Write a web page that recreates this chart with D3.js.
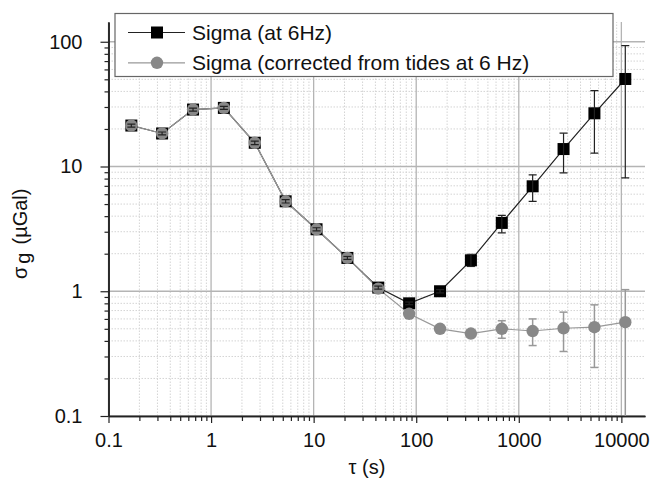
<!DOCTYPE html>
<html>
<head>
<meta charset="utf-8">
<script src="https://cdn.jsdelivr.net/npm/d3@7"></script>
<style>
  body { margin: 0; background: #fff; }
  svg { font-family: "Liberation Sans", Arial, sans-serif; }
</style>
</head>
<body>
<div id="chart"></div>
<script>
// averaging time (s)
const tau = [0.167, 0.333, 0.667, 1.333, 2.667, 5.333, 10.67, 21.33, 42.67, 85.33, 170.7, 341.3, 682.7, 1365, 2731, 5461, 10923]

// Sigma (at 6Hz)
const sigma     = [21.3, 18.4, 28.6, 29.5, 15.5, 5.26, 3.14, 1.85, 1.07, 0.80, 1.00, 1.77, 3.53, 6.94, 13.8, 26.7, 50.3]
const sigmaLow  = [20.7, 17.9, 27.8, 28.7, 15.0, 5.10, 3.05, 1.80, 1.04, 0.78, 0.97, 1.58, 2.94, 5.26, 8.9, 12.8, 8.1]
const sigmaHigh = [21.9, 18.9, 29.4, 30.3, 16.0, 5.42, 3.23, 1.90, 1.10, 0.82, 1.03, 1.98, 4.06, 8.57, 18.5, 40.6, 93]

// Sigma (corrected from tides at 6 Hz)
const corr     = [21.3, 18.4, 28.6, 29.5, 15.5, 5.26, 3.14, 1.85, 1.05, 0.66, 0.50, 0.458, 0.50, 0.48, 0.505, 0.515, 0.565]
const corrLow  = [21.0, 18.1, 28.2, 29.1, 15.3, 5.20, 3.10, 1.83, 1.03, 0.64, 0.49, 0.445, 0.42, 0.367, 0.329, 0.245, 0.05]
const corrHigh = [21.6, 18.7, 29.0, 29.9, 15.7, 5.32, 3.18, 1.87, 1.07, 0.68, 0.51, 0.471, 0.58, 0.60, 0.68, 0.778, 1.03]

const xTickLabels = ["0.1", "1", "10", "100", "1000", "10000"]
const yTickLabels = ["0.1", "1", "10", "100"]

const legendNames = ["Sigma (at 6Hz)", "Sigma (corrected from tides at 6 Hz)"]

const width = 657, height = 483

const x = d3.scaleLog().domain([0.1, 17000]).range([108.5, 645])
const y = d3.scaleLog().domain([0.1, 144]).range([416, 22])

const xMajor = xTickLabels.map(Number)
const yMajor = yTickLabels.map(Number)
const isMajor = v => Math.abs(Math.log10(v) - Math.round(Math.log10(v))) < 1e-9
const xMinor = x.ticks().filter(v => !isMajor(v))
const yMinor = y.ticks().filter(v => !isMajor(v))

const svg = d3.select("#chart").append("svg")
    .attr("width", width)
    .attr("height", height)

const [x0, x1] = x.range()
const [y0, y1] = y.range()

// grid
const grid = svg.append("g")
grid.selectAll(".gxm").data(xMinor).enter().append("line")
    .attr("x1", d => x(d)).attr("x2", d => x(d))
    .attr("y1", y0).attr("y2", y1)
    .attr("stroke", "#d4d4d4").attr("stroke-dasharray", "1.5,1.5")
grid.selectAll(".gym").data(yMinor).enter().append("line")
    .attr("x1", x0).attr("x2", x1)
    .attr("y1", d => y(d)).attr("y2", d => y(d))
    .attr("stroke", "#d4d4d4").attr("stroke-dasharray", "1.5,1.5")
grid.selectAll(".gxM").data(xMajor).enter().append("line")
    .attr("x1", d => x(d)).attr("x2", d => x(d))
    .attr("y1", y0).attr("y2", y1)
    .attr("stroke", "#b4b4b4").attr("stroke-width", 1.3)
grid.selectAll(".gyM").data(yMajor).enter().append("line")
    .attr("x1", x0).attr("x2", x1)
    .attr("y1", d => y(d)).attr("y2", d => y(d))
    .attr("stroke", "#b4b4b4").attr("stroke-width", 1.3)

// axes
const xAxis = svg.append("g").attr("transform", `translate(0,${y0})`)
xAxis.call(d3.axisBottom(x).tickValues(xMajor).tickSize(7).tickFormat((d, i) => xTickLabels[i]).tickSizeOuter(0))
svg.append("g").attr("transform", `translate(0,${y0})`)
    .call(d3.axisBottom(x).tickValues(xMinor).tickSize(5).tickFormat("").tickSizeOuter(0))
const yAxis = svg.append("g").attr("transform", `translate(${x0},0)`)
yAxis.call(d3.axisLeft(y).tickValues(yMajor).tickSize(8).tickFormat((d, i) => yTickLabels[i]).tickSizeOuter(0))
svg.append("g").attr("transform", `translate(${x0},0)`)
    .call(d3.axisLeft(y).tickValues(yMinor).tickSize(4).tickFormat("").tickSizeOuter(0))

svg.selectAll(".domain").attr("stroke", "#222").attr("stroke-width", 1.5)
svg.selectAll(".tick line").attr("stroke", "#222").attr("stroke-width", 1.2)
xAxis.selectAll("text").attr("font-size", 20).attr("fill", "#111").attr("y", 17).attr("dy", "0.71em")
yAxis.selectAll("text").attr("font-size", 20).attr("fill", "#111").attr("x", -26)

// axis titles
svg.append("text")
    .attr("x", 367).attr("y", 474)
    .attr("text-anchor", "middle")
    .attr("font-size", 20).attr("fill", "#111")
    .text("τ (s)")

const yt = svg.append("text")
    .attr("transform", "translate(27,279) rotate(-90)")
    .attr("font-size", 20).attr("fill", "#111")
yt.append("tspan").text("σ")
yt.append("tspan").attr("dx", 3).attr("dy", 3).text("g")
yt.append("tspan").attr("dx", 8).attr("dy", -3).text("(µGal)")

// data
const plot = svg.append("g")
svg.append("clipPath").attr("id", "clip").append("rect")
    .attr("x", x0).attr("y", y1).attr("width", x1 - x0).attr("height", y0 - y1)
plot.attr("clip-path", "url(#clip)")

const blackData = tau.map((t, i) => ({ t, v: sigma[i], lo: sigmaLow[i], hi: sigmaHigh[i] }))
const grayData = tau.map((t, i) => ({ t, v: corr[i], lo: corrLow[i], hi: corrHigh[i] }))

const line = d3.line().x(d => x(d.t)).y(d => y(d.v))

plot.append("path").datum(blackData)
    .attr("d", line).attr("fill", "none").attr("stroke", "#222").attr("stroke-width", 1.2)
plot.append("path").datum(grayData)
    .attr("d", line).attr("fill", "none").attr("stroke", "#999").attr("stroke-width", 1.2)

plot.selectAll(".sq").data(blackData).enter().append("rect")
    .attr("x", d => x(d.t) - 6).attr("y", d => y(d.v) - 6)
    .attr("width", 12).attr("height", 12)
    .attr("fill", "#000")

function errorBars(data, color, width) {
    const g = plot.append("g").attr("stroke", color).attr("stroke-width", width)
    const eb = g.selectAll("g").data(data).enter().append("g")
    eb.append("line")
        .attr("x1", d => x(d.t)).attr("x2", d => x(d.t))
        .attr("y1", d => y(Math.max(d.lo, 0.01))).attr("y2", d => y(d.hi))
    eb.append("line")
        .attr("x1", d => x(d.t) - 4).attr("x2", d => x(d.t) + 4)
        .attr("y1", d => y(d.hi)).attr("y2", d => y(d.hi))
    eb.append("line")
        .attr("x1", d => x(d.t) - 4).attr("x2", d => x(d.t) + 4)
        .attr("y1", d => y(d.lo)).attr("y2", d => y(d.lo))
}

errorBars(grayData, "#999", 1.5)

plot.selectAll(".ci").data(grayData).enter().append("circle")
    .attr("cx", d => x(d.t)).attr("cy", d => y(d.v))
    .attr("r", 6.2)
    .attr("fill", "#888")

errorBars(blackData, "#222", 1.2)

// legend
const legend = svg.append("g")
legend.append("rect")
    .attr("x", 115).attr("y", 13.5).attr("width", 498).attr("height", 63)
    .attr("fill", "#fff").attr("stroke", "#666").attr("stroke-width", 1.2)

const legendStyles = [
    { line: "#222", mark: "square", fill: "#000" },
    { line: "#999", mark: "circle", fill: "#888" }
]
legendNames.forEach((name, i) => {
    const cy = 32.5 + i * 30.3
    const s = legendStyles[i]
    legend.append("line")
        .attr("x1", 128).attr("x2", 185).attr("y1", cy).attr("y2", cy)
        .attr("stroke", s.line).attr("stroke-width", 1.2)
    if (s.mark === "square") {
        legend.append("rect").attr("x", 151).attr("y", cy - 6).attr("width", 12).attr("height", 12).attr("fill", s.fill)
    } else {
        legend.append("circle").attr("cx", 157).attr("cy", cy).attr("r", 6.2).attr("fill", s.fill)
    }
    legend.append("text")
        .attr("x", 192).attr("y", cy + 7.5)
        .attr("font-size", 21).attr("fill", "#111")
        .text(name)
})
</script>
</body>
</html>
